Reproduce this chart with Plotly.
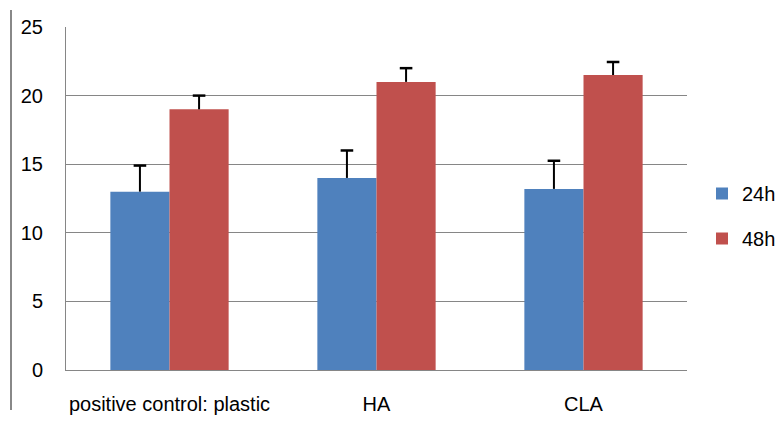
import plotly.graph_objects as go

categories = ["positive control: plastic", "HA", "CLA"]
series_names = ["24h", "48h"]
values_24h = [13.0, 14.0, 13.2]
values_48h = [19.0, 21.0, 21.5]
err_24h = [1.9, 2.0, 2.05]
err_48h = [1.0, 1.0, 0.95]
y_ticks = [0, 5, 10, 15, 20, 25]

colors = ["#4F81BD", "#C0504D"]
gap = 1.5 / 3.5
bar_w = (1 - gap) / 2

xpos = list(range(len(categories)))

fig = go.Figure()
for k, (name, vals, errs) in enumerate(zip(series_names, [values_24h, values_48h], [err_24h, err_48h])):
    fig.add_trace(go.Bar(
        x=xpos, y=vals, name=name, marker_color=colors[k], marker_line_width=0,
        legendgroup=name,
        error_y=dict(type="data", symmetric=False, array=errs, arrayminus=[0] * len(errs),
                     width=0, thickness=2, color="black"),
    ))
for k, (vals, errs) in enumerate(zip([values_24h, values_48h], [err_24h, err_48h])):
    off = (k - 0.5) * bar_w
    fig.add_trace(go.Scatter(
        x=[i + off for i in xpos], y=[v + e for v, e in zip(vals, errs)],
        mode="markers", showlegend=False, hoverinfo="skip",
        marker=dict(symbol="line-ew", size=9, line=dict(width=2.5, color="black")),
    ))

L, R, T, B = 66, 93, 27, 51
W, H = 780, 421
pw, ph = W - L - R, H - T - B

fig.update_layout(
    width=W, height=H,
    margin=dict(l=L, r=R, t=T, b=B, pad=0, autoexpand=False),
    paper_bgcolor="white", plot_bgcolor="white",
    barmode="group", bargap=gap, bargroupgap=0,
    font=dict(family="Liberation Sans, Arial, sans-serif", size=20, color="black"),
    showlegend=True,
    legend=dict(x=(702 - L) / pw, xanchor="left", y=(H - B - 216) / ph, yanchor="middle",
                traceorder="grouped", tracegroupgap=16, font=dict(size=20),
                bgcolor="rgba(0,0,0,0)", borderwidth=0),
    xaxis=dict(range=[-0.5, len(categories) - 0.5], tickvals=xpos, ticktext=categories,
               showgrid=False, zeroline=False, showline=True, linecolor="#868686", linewidth=1,
               ticks="", ticklabelstandoff=16, fixedrange=True, automargin=False),
    yaxis=dict(range=[0, 25], tickvals=y_ticks, showgrid=True, gridcolor="#868686", gridwidth=1,
               zeroline=False, showline=True, linecolor="#868686", linewidth=1,
               ticks="", ticklabelstandoff=18, fixedrange=True, automargin=False),
    shapes=[
        dict(type="line", xref="paper", yref="paper",
             x0=(11 - L) / pw, x1=(11 - L) / pw, y0=(H - B - 10) / ph, y1=(H - B - 410) / ph,
             line=dict(color="#888888", width=2)),
    ],
)

fig.write_html("out.html", config={"displayModeBar": False},
               post_script="document.body.style.margin='0';document.body.style.overflow='hidden';")
